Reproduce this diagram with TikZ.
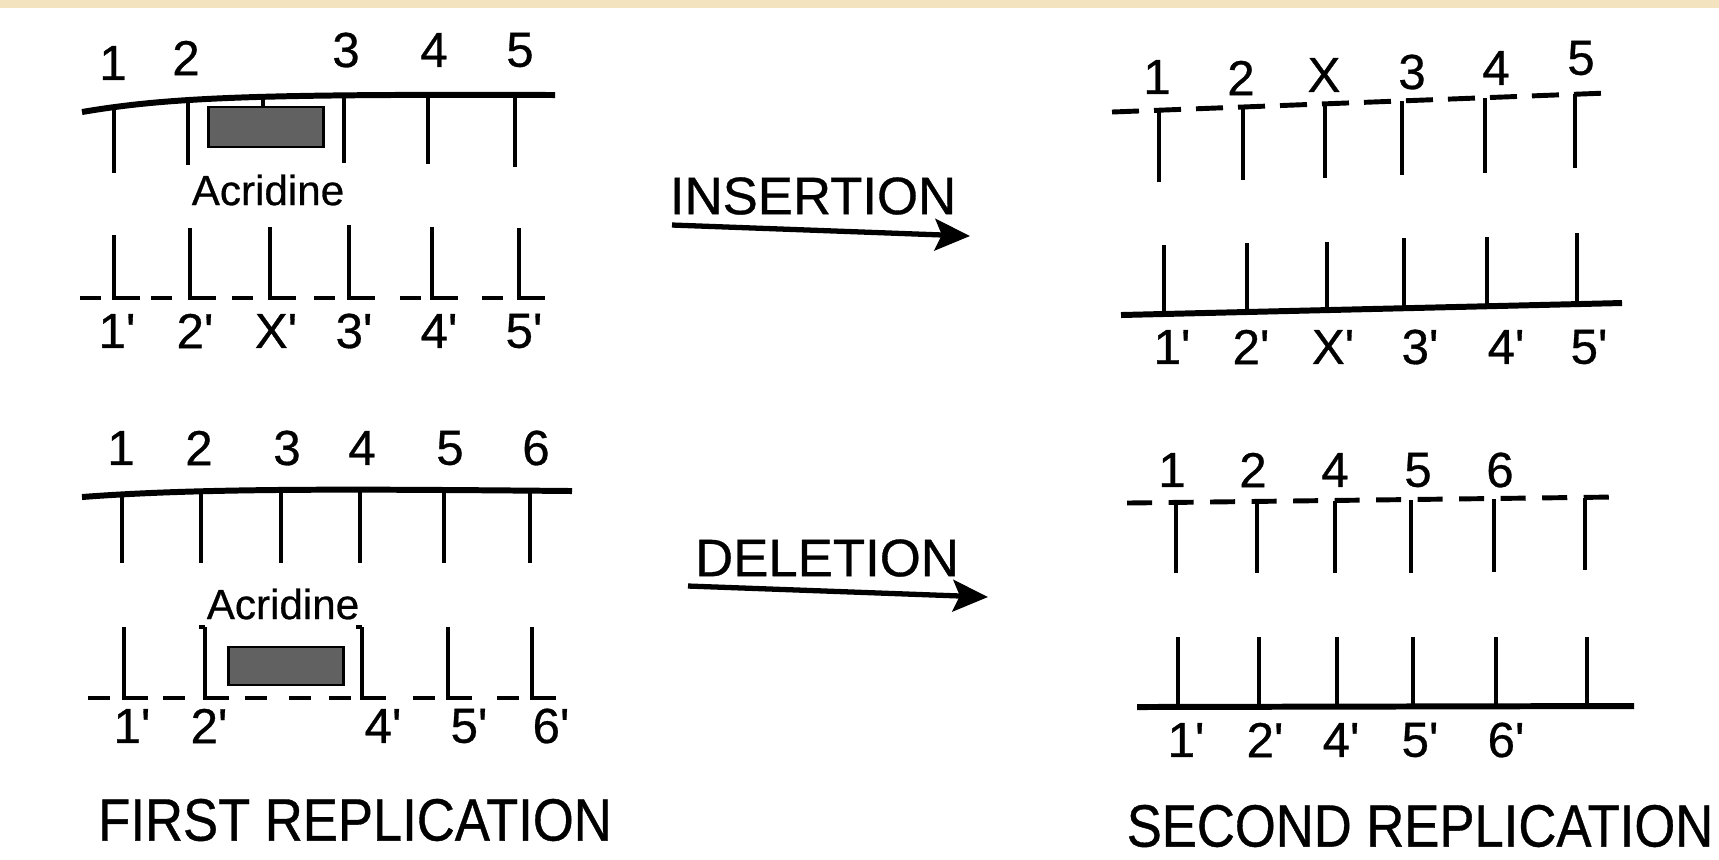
\documentclass[tikz,border=0pt]{standalone}
\usepackage{fontspec}
\setmainfont{Liberation Sans}[FakeBold=0.6]
\newfontfamily\titlefont[FakeStretch=0.88, FakeBold=0.6]{Liberation Sans}
\usetikzlibrary{arrows.meta}
\definecolor{scanband}{HTML}{F3E3BF}
\newcommand\prm{\textquotesingle}

\begin{document}
\begin{tikzpicture}[x=0.01cm, y=-0.01cm,
    strand/.style={line width=1.7pt},
    bond/.style={line width=1.4pt},
    lab/.style={inner sep=0pt, font=\fontsize{14}{16}\selectfont},
    druglab/.style={inner sep=0pt, font=\fontsize{12}{14}\selectfont},
    steplab/.style={inner sep=0pt, font=\fontsize{15}{17}\selectfont},
    title/.style={inner sep=0pt, font=\titlefont\fontsize{17}{19}\selectfont},
    drug/.style={draw=black, line width=0.8pt, fill=black!62},
    react/.style={line width=1.5pt, -{Stealth[length=10pt, width=9pt, inset=2pt]}}]
  \useasboundingbox (0,0) rectangle (1719,859);
  \fill[white] (0,0) rectangle (1719,859);
  \fill[scanband] (0,0) rectangle (1719,8);

  % first replication, insertion
  \draw[strand] (82,112) .. controls (170,97) and (260,94) .. (555,95);
  \foreach \x/\a/\b in {114/106/173, 188/100/165, 344/96/163, 428/95/164, 515/95/167}
    \draw[bond] (\x,\a) -- (\x,\b);
  \draw[bond] (263,95) -- (263,107);
  \node[drug, minimum width=1.15cm, minimum height=0.4cm] (acr1) at (266,127) {};
  \node[druglab] (acr1-lab) at (268,190) {Acridine};
  \foreach \x/\a in {114/235, 190/228, 270/227, 349/225, 432/227, 519/228}
    \draw[bond] (\x,\a) -- (\x,298) -- ++(26,0);
  \foreach \x in {80,151,232,314,400,482}
    \draw[bond] (\x,298) -- ++(21,0);
  \foreach \n/\x/\y/\t in {1/113/63/1, 2/186/58/2, 3/346/50/3, 4/434/50/4, 5/520/50/5}
    \node[lab] (ia-\n) at (\x,\y) {\t};
  \foreach \n/\x/\t in {1/117/1, 2/195/2, 3/276/X, 4/354/3, 5/439/4, 6/524/5}
    \node[lab] (ib-\n) at (\x,331) {\t\prm};

  % first replication, deletion
  \draw[strand] (82,497) .. controls (200,488) and (350,489) .. (572,491);
  \foreach \x in {122,201,281,360,444,530}
    \draw[bond] (\x,492) -- (\x,563);
  \node[druglab] (acr2-lab) at (283,604) {Acridine};
  \node[drug, minimum width=1.15cm, minimum height=0.38cm] (acr2) at (286,666) {};
  \foreach \x in {124,205,362,448,532}
    \draw[bond] (\x,627) -- (\x,698) -- ++(24,0);
  \draw[bond] (205,627) -- ++(-6,0);
  \draw[bond] (362,627) -- ++(-6,0);
  \foreach \x in {88,163,245,289,329,413,497}
    \draw[bond] (\x,698) -- ++(22,0);
  \foreach \n/\x/\t in {1/121/1, 2/199/2, 3/287/3, 4/362/4, 5/450/5, 6/536/6}
    \node[lab] (da-\n) at (\x,448) {\t};
  \foreach \n/\x/\t in {1/132/1, 2/209/2, 4/383/4, 5/469/5, 6/551/6}
    \node[lab] (db-\n) at (\x,726) {\t\prm};

  % arrows
  \coordinate (ins-a) at (672,225);
  \coordinate (ins-b) at (970,236);
  \draw[react] (ins-a) -- (ins-b);
  \node[steplab] (ins) at (813,196) {INSERTION};
  \coordinate (del-a) at (688,586);
  \coordinate (del-b) at (988,597);
  \draw[react] (del-a) -- (del-b);
  \node[steplab] (del) at (827,558) {DELETION};

  % second replication, insertion
  \draw[bond, dash pattern=on 0.27cm off 0.15cm] (1112,112) -- (1607,93);
  \foreach \x/\a/\b in {1159/110/182, 1243/107/180, 1325/104/178, 1402/101/175, 1485/98/173, 1575/94/168}
    \draw[bond] (\x,\a) -- (\x,\b);
  \draw[strand] (1121,315) -- (1622,303);
  \foreach \x/\a/\b in {1164/245/314, 1247/243/312, 1327/242/310, 1404/238/308, 1487/237/306, 1577/233/304}
    \draw[bond] (\x,\a) -- (\x,\b);
  \foreach \n/\x/\y/\t in {1/1157/77/1, 2/1241/78/2, 3/1324/75/X, 4/1412/72/3, 5/1496/68/4, 6/1581/58/5}
    \node[lab] (sa-\n) at (\x,\y) {\t};
  \foreach \n/\x/\t in {1/1172/1, 2/1251/2, 3/1333/X, 4/1420/3, 5/1506/4, 6/1589/5}
    \node[lab] (sb-\n) at (\x,347) {\t\prm};

  % second replication, deletion
  \draw[bond, dash pattern=on 0.25cm off 0.165cm] (1127,503) -- (1614,497);
  \foreach \x/\a/\b in {1176/502/573, 1257/502/573, 1335/501/573, 1411/500/573, 1494/499/572, 1585/498/570}
    \draw[bond] (\x,\a) -- (\x,\b);
  \draw[strand] (1137,707) -- (1634,706);
  \foreach \x in {1178,1259,1337,1413,1496,1587}
    \draw[bond] (\x,637) -- (\x,707);
  \foreach \n/\x/\t in {1/1172/1, 2/1253/2, 4/1335/4, 5/1418/5, 6/1500/6}
    \node[lab] (ta-\n) at (\x,470) {\t};
  \foreach \n/\x/\t in {1/1186/1, 2/1265/2, 4/1341/4, 5/1420/5, 6/1506/6}
    \node[lab] (tb-\n) at (\x,740) {\t\prm};

  \node[title] (first) at (355,820) {FIRST REPLICATION};
  \node[title] (second) at (1420,826) {SECOND REPLICATION};
\end{tikzpicture}
\end{document}
